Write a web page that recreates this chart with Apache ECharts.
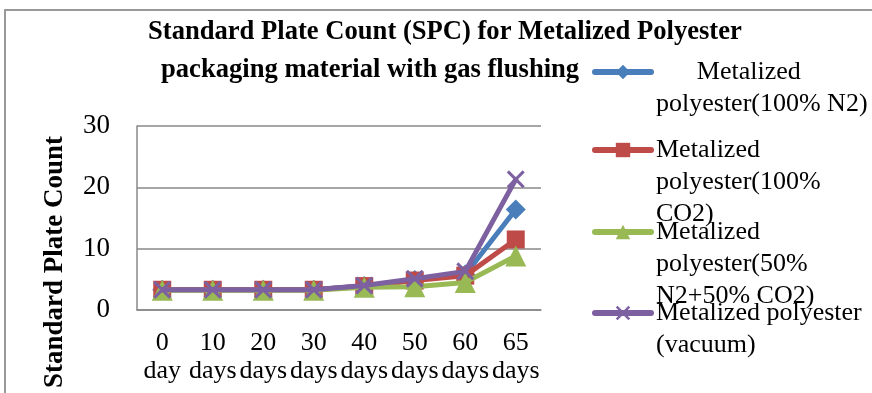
<!DOCTYPE html>
<html>
<head>
<meta charset="utf-8">
<style>
  html, body { margin: 0; padding: 0; background: #fff; }
  #chart { width: 872px; height: 393px; }
</style>
<script src="https://cdn.jsdelivr.net/npm/echarts@6/dist/echarts.min.js"></script>
</head>
<body>
<div id="chart"></div>
<script>
// Storage time points (two-line labels: value / unit)
const categories = ['0\nday', '10\ndays', '20\ndays', '30\ndays', '40\ndays', '50\ndays', '60\ndays', '65\ndays'];

// Standard Plate Count per packaging atmosphere
const spcN2     = [3.3, 3.3, 3.3, 3.3, 3.9, 4.9, 5.8, 16.4];
const spcCO2    = [3.3, 3.3, 3.3, 3.3, 3.9, 4.8, 5.6, 11.5];
const spcMix    = [3.2, 3.2, 3.2, 3.2, 3.7, 3.8, 4.5, 8.8];
const spcVacuum = [3.3, 3.3, 3.3, 3.3, 4.0, 5.1, 6.3, 21.3];

const seriesNames = [
  'Metalized polyester(100% N2)',
  'Metalized polyester(100% CO2)',
  'Metalized polyester(50% N2+50% CO2)',
  'Metalized polyester (vacuum)'
];
const legendTexts = [
  '{c|Metalized}\npolyester(100% N2)',
  'Metalized\npolyester(100%\nCO2)',
  'Metalized\npolyester(50%\nN2+50% CO2)',
  'Metalized polyester\n(vacuum)'
];
const yTicks = { min: 0, max: 30, step: 10 };

const FONT = '"Liberation Serif", "Times New Roman", serif';
const colors = ['#4A7EBB', '#BE4B48', '#98B954', '#7D60A0'];
const symbols = [
  'diamond',
  'rect',
  'triangle',
  'path://M0,1.2L1.2,0L5,3.8L8.8,0L10,1.2L6.2,5L10,8.8L8.8,10L5,6.2L1.2,10L0,8.8L3.8,5Z'
];
const symbolSizes = [20, 18, 21, 18];
const dataSets = [spcN2, spcCO2, spcMix, spcVacuum];

const LH = 32;
const iconCenters = [72, 150, 232, 313];

const legends = seriesNames.map((name, i) => {
  const lines = legendTexts[i].split('\n').length;
  return {
    data: [name],
    orient: 'vertical',
    left: 592,
    top: iconCenters[i] - (2 * lines - 1) * LH / 2,
    padding: 0,
    itemWidth: 56,
    itemHeight: 18,
    lineStyle: { width: 6, cap: 'round' },
    formatter: () => legendTexts[i],
    textStyle: {
      fontFamily: FONT,
      fontSize: 26,
      lineHeight: LH,
      color: '#000',
      padding: [(lines - 1) * LH, 0, 0, 0],
      rich: {
        c: {
          fontFamily: FONT, fontSize: 26, lineHeight: LH,
          align: 'center', color: '#000', padding: [0, 26, 0, 0]
        }
      }
    }
  };
});

const chart = echarts.init(document.getElementById('chart'), null, { renderer: 'canvas' });

chart.setOption({
  animation: false,
  backgroundColor: '#fff',
  title: [
    {
      text: 'Standard Plate Count (SPC) for Metalized Polyester',
      left: 148, top: 19, padding: 0,
      textStyle: { fontFamily: FONT, fontWeight: 'bold', fontSize: 26.6, color: '#000' }
    },
    {
      text: 'packaging material with gas flushing',
      left: 161, top: 57, padding: 0,
      textStyle: { fontFamily: FONT, fontWeight: 'bold', fontSize: 26.6, color: '#000' }
    }
  ],
  legend: legends,
  graphic: [
    {
      type: 'rect',
      shape: { x: 5, y: 10, width: 900, height: 420 },
      style: { fill: 'none', stroke: '#999', lineWidth: 2 },
      silent: true,
      z: -1
    }
  ],
  grid: { left: 137, right: 331, top: 126, bottom: 83 },
  xAxis: {
    type: 'category',
    data: categories,
    boundaryGap: true,
    axisLine: { lineStyle: { color: '#888', width: 1.5 } },
    axisTick: { show: false },
    axisLabel: {
      interval: 0,
      margin: 19,
      fontFamily: FONT,
      fontSize: 26,
      lineHeight: 28,
      color: '#000'
    }
  },
  yAxis: {
    type: 'value',
    min: yTicks.min,
    max: yTicks.max,
    interval: yTicks.step,
    name: 'Standard Plate Count',
    nameLocation: 'middle',
    nameRotate: 90,
    nameGap: 68,
    nameTextStyle: {
      fontFamily: FONT,
      fontWeight: 'bold',
      fontSize: 27,
      color: '#000',
      padding: [0, 88, 0, 0]
    },
    axisLine: { show: true, lineStyle: { color: '#888', width: 1.5 } },
    axisTick: { show: false },
    splitLine: { lineStyle: { color: '#888', width: 1.5 } },
    axisLabel: {
      margin: 27,
      fontFamily: FONT,
      fontSize: 27,
      color: '#000'
    }
  },
  series: dataSets.map((d, i) => ({
    name: seriesNames[i],
    type: 'line',
    data: d,
    symbol: symbols[i],
    symbolSize: symbolSizes[i],
    showSymbol: true,
    showAllSymbol: true,
    lineStyle: { color: colors[i], width: 5, cap: 'round', join: 'round' },
    itemStyle: { color: colors[i] },
    z: 2 + i
  }))
});
</script>
</body>
</html>
